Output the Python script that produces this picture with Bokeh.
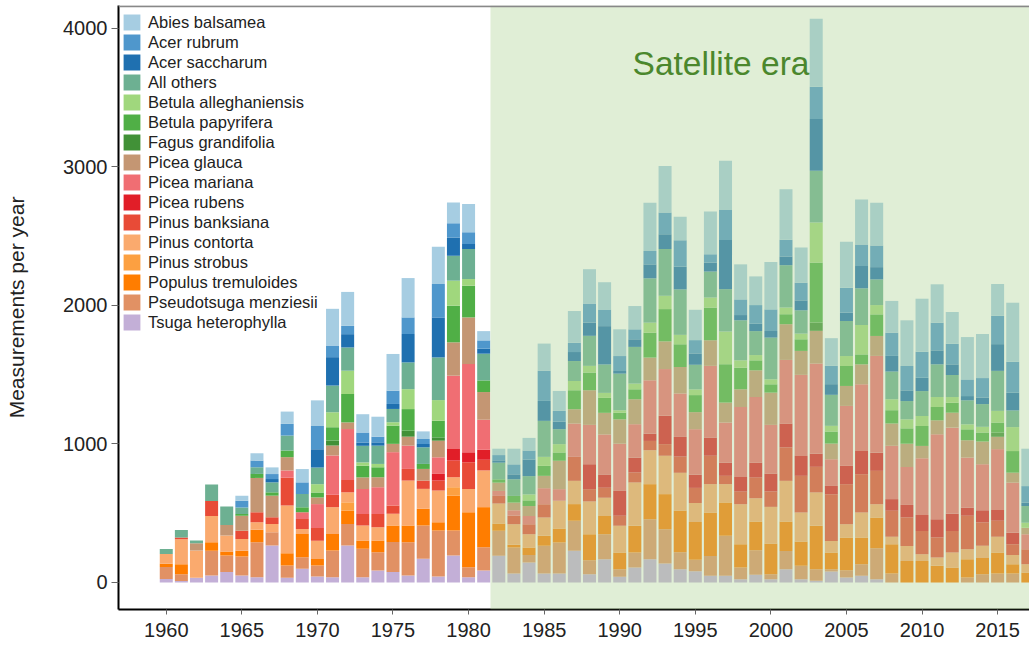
from bokeh.plotting import figure
from bokeh.models import ColumnDataSource, BoxAnnotation, Label, Legend, LegendItem, Span
from bokeh.embed import file_html
from bokeh.resources import INLINE

years = list(range(1960, 2018))

# legend order (top of stack first)
species = [
    "Abies balsamea", "Acer rubrum", "Acer saccharum", "All others",
    "Betula alleghaniensis", "Betula papyrifera", "Fagus grandifolia",
    "Picea glauca", "Picea mariana", "Picea rubens", "Pinus banksiana",
    "Pinus contorta", "Pinus strobus", "Populus tremuloides",
    "Pseudotsuga menziesii", "Tsuga heterophylla",
]
colors = [
    "#a6cde2", "#4f97cc", "#1f70b0", "#6db092",
    "#a0d77d", "#50af46", "#419137",
    "#c49673", "#f06e73", "#e11e28", "#e84b37",
    "#faaa6e", "#fca041", "#ff7d00",
    "#e19164", "#c3afd7",
]

# values per year, 1960-1981 then 1982-2017
abies = [0, 0, 0, 0, 0, 36, 53, 48, 89, 96, 185, 265, 245, 132, 144, 265, 284, 55, 270, 149, 205, 67] + \
        [46, 113, 91, 197, 144, 229, 248, 197, 193, 168, 349, 337, 169, 219, 308, 356, 253, 207, 342, 366,
         253, 491, 200, 332, 325, 308, 229, 330, 383, 277, 229, 306, 318, 229, 426, 270]
acer_rubrum = [0, 0, 0, 0, 0, 48, 48, 36, 84, 84, 168, 84, 60, 72, 41, 96, 120, 36, 241, 103, 84, 60] + \
        [38, 72, 65, 217, 77, 67, 137, 120, 108, 72, 96, 156, 191, 96, 60, 217, 113, 135, 156, 120,
         128, 232, 132, 180, 156, 156, 168, 176, 188, 200, 149, 120, 140, 205, 224, 120]
acer_saccharum = [0, 0, 0, 0, 0, 0, 0, 24, 0, 0, 132, 205, 96, 24, 24, 36, 205, 24, 289, 132, 36, 36] + \
        [17, 36, 120, 144, 55, 65, 96, 277, 19, 55, 101, 108, 164, 82, 65, 354, 38, 53, 48, 63,
         72, 375, 77, 60, 161, 89, 113, 77, 96, 101, 77, 31, 48, 193, 128, 24]
all_others = [35, 55, 19, 120, 132, 48, 48, 72, 108, 96, 120, 193, 168, 120, 132, 96, 193, 120, 308, 180, 217, 193] + \
        [120, 120, 132, 260, 108, 144, 217, 205, 265, 265, 320, 337, 328, 178, 188, 306, 289, 173, 301, 306,
         168, 373, 224, 253, 265, 185, 200, 132, 180, 236, 159, 173, 164, 289, 120, 120]
betula_all = [0, 0, 0, 0, 0, 0, 0, 0, 0, 0, 60, 108, 168, 24, 24, 24, 144, 0, 149, 180, 48, 0] + \
        [0, 0, 43, 65, 60, 67, 48, 36, 17, 41, 72, 96, 68, 41, 72, 236, 53, 38, 36, 48,
         41, 289, 41, 72, 212, 67, 79, 65, 72, 72, 41, 36, 41, 84, 173, 36]
betula_pap = [0, 0, 0, 0, 0, 12, 29, 24, 48, 36, 36, 96, 205, 84, 72, 132, 156, 36, 120, 265, 229, 84] + \
        [24, 48, 41, 72, 60, 137, 128, 108, 48, 72, 180, 233, 164, 123, 236, 277, 156, 72, 60, 72,
         84, 433, 87, 144, 72, 156, 96, 111, 144, 96, 72, 79, 65, 72, 156, 0]
fagus = [0, 0, 0, 0, 0, 0, 0, 0, 0, 0, 0, 36, 0, 0, 0, 0, 43, 0, 24, 0, 0, 0] + \
        [0, 0, 0, 0, 0, 0, 0, 0, 0, 0, 0, 0, 0, 0, 0, 0, 0, 0, 0, 0,
         0, 60, 0, 0, 0, 0, 0, 0, 0, 0, 0, 0, 0, 31, 0, 0]
picea_glauca = [0, 0, 53, 0, 77, 108, 248, 156, 96, 0, 48, 72, 48, 84, 72, 60, 65, 84, 120, 241, 337, 200] + \
        [60, 55, 72, 89, 205, 103, 250, 156, 176, 180, 164, 200, 191, 123, 185, 144, 128, 193, 233, 258,
         173, 236, 113, 144, 144, 144, 161, 168, 89, 101, 108, 125, 164, 89, 72, 48]
picea_mariana = [0, 0, 0, 0, 0, 0, 0, 0, 53, 48, 173, 284, 368, 180, 193, 385, 168, 0, 120, 529, 637, 217] + \
        [36, 41, 60, 116, 84, 241, 284, 289, 341, 241, 385, 337, 314, 328, 517, 289, 505, 474, 351, 459,
         585, 650, 193, 433, 481, 698, 385, 274, 409, 614, 621, 361, 332, 440, 361, 108]
picea_rubens = [0, 0, 0, 0, 0, 0, 0, 0, 0, 0, 0, 0, 0, 0, 0, 0, 0, 0, 48, 84, 72, 72] + \
        [0, 0, 0, 0, 0, 0, 180, 96, 180, 108, 53, 205, 142, 96, 132, 96, 106, 108, 130, 173,
         144, 96, 60, 132, 168, 132, 84, 91, 116, 132, 125, 60, 89, 77, 84, 0]
pinus_banksiana = [0, 12, 0, 108, 0, 60, 72, 48, 200, 72, 91, 89, 89, 84, 96, 60, 84, 60, 72, 120, 193, 77] + \
        [55, 60, 72, 96, 0, 173, 89, 72, 72, 72, 67, 84, 117, 109, 205, 60, 91, 149, 111, 241,
         265, 185, 337, 289, 277, 241, 188, 205, 168, 144, 156, 241, 168, 116, 77, 108]
pinus_contorta = [70, 180, 197, 190, 115, 84, 55, 60, 344, 36, 132, 193, 72, 108, 96, 84, 325, 144, 229, 72, 168, 265] + \
        [144, 149, 96, 132, 200, 168, 236, 132, 193, 313, 245, 277, 273, 137, 205, 132, 289, 168, 265, 294,
         209, 241, 84, 96, 180, 96, 53, 108, 48, 60, 108, 72, 89, 113, 67, 60]
pinus_strobus = [0, 0, 0, 0, 0, 0, 0, 0, 0, 0, 0, 0, 60, 0, 0, 0, 0, 0, 0, 60, 0, 0] + \
        [0] * 36
populus = [25, 72, 0, 60, 29, 43, 89, 0, 89, 168, 48, 120, 96, 60, 84, 120, 120, 120, 60, 253, 397, 289] + \
        [53, 19, 53, 72, 101, 120, 188, 132, 120, 193, 253, 253, 300, 273, 313, 241, 168, 207, 221, 212,
         176, 313, 120, 236, 193, 221, 212, 156, 156, 120, 108, 132, 116, 152, 67, 72]
pseudotsuga = [85, 50, 0, 180, 120, 137, 253, 96, 89, 84, 79, 193, 156, 205, 132, 217, 241, 241, 332, 180, 72, 168] + \
        [180, 188, 55, 200, 224, 217, 101, 180, 55, 108, 289, 248, 123, 82, 144, 289, 84, 178, 36, 132,
         96, 84, 17, 53, 84, 224, 65, 0, 0, 0, 0, 36, 60, 65, 65, 0]
tsuga = [26, 10, 34, 50, 75, 50, 38, 267, 34, 99, 43, 38, 267, 38, 87, 75, 50, 171, 43, 195, 38, 87] + \
        [193, 65, 144, 65, 65, 229, 60, 168, 41, 108, 168, 137, 96, 82, 48, 48, 24, 55, 24, 96,
         24, 12, 79, 36, 48, 24, 0, 0, 0, 0, 0, 0, 0, 0, 0, 0]

series = [abies, acer_rubrum, acer_saccharum, all_others, betula_all, betula_pap, fagus,
          picea_glauca, picea_mariana, picea_rubens, pinus_banksiana, pinus_contorta,
          pinus_strobus, populus, pseudotsuga, tsuga]

x_ticks = [1960, 1965, 1970, 1975, 1980, 1985, 1990, 1995, 2000, 2005, 2010, 2015]
y_ticks = [0, 1000, 2000, 3000, 4000]
satellite_start = 1981.45

data = {"year": years}
for name, vals in zip(species, series):
    data[name] = vals
source = ColumnDataSource(data)

p = figure(frame_width=911, frame_height=604,
           x_range=(1956.84, 2017.11), y_range=(-195, 4166),
           output_backend="svg", toolbar_location=None,
           min_border_left=118, min_border_right=0, min_border_top=5, min_border_bottom=0)

stack_names = list(reversed(species))
stack_colors = list(reversed(colors))
rends = p.vbar_stack(stack_names, x="year", width=0.86, source=source,
                     fill_color=stack_colors, line_color=None)
rmap = dict(zip(stack_names, rends))

# satellite era overlay
box = BoxAnnotation(left=satellite_start, fill_color="#add293", fill_alpha=0.38, line_alpha=0)
p.add_layout(box)
p.add_layout(Label(x=1990.85, y=3747, text="Satellite era", text_font="Liberation Sans",
                   text_font_size="33.5px", text_color="#4b872d", text_baseline="middle"))

legend = Legend(items=[LegendItem(label=n, renderers=[rmap[n]]) for n in species],
                location="top_left", margin=0, padding=3, spacing=0,
                title=" ", title_text_font_size="1px", title_standoff=3,
                glyph_height=20, glyph_width=21, label_height=20, label_standoff=6,
                label_text_font="Liberation Sans", label_text_font_size="16.5px",
                label_text_color="#222222",
                background_fill_alpha=0, border_line_alpha=0)
p.add_layout(legend)

p.add_layout(Span(location=4160, dimension="width", line_color="#888888", line_width=2))

p.xaxis.ticker = x_ticks
p.yaxis.ticker = y_ticks
p.xgrid.visible = False
p.ygrid.visible = False
p.outline_line_color = None
p.axis.minor_tick_line_color = None
p.axis.axis_line_color = "black"
p.axis.axis_line_width = 2
p.axis.major_tick_line_color = "#666666"
p.axis.major_tick_in = 0
p.xaxis.major_tick_out = 5
p.yaxis.major_tick_out = 7
p.axis.major_label_text_font = "Liberation Sans"
p.axis.major_label_text_font_size = "20px"
p.axis.major_label_text_color = "#222222"
p.xaxis.major_label_standoff = 8
p.yaxis.major_label_standoff = 4
p.yaxis.axis_label = "Measurements per year"
p.yaxis.axis_label_text_font = "Liberation Sans"
p.yaxis.axis_label_text_font_size = "21px"
p.yaxis.axis_label_text_font_style = "normal"
p.yaxis.axis_label_text_color = "#222222"
p.yaxis.axis_label_standoff = 32

open("out.html", "w").write(file_html(p, INLINE))
